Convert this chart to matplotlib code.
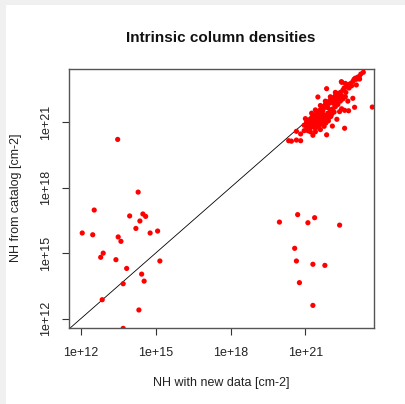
import numpy as np
import matplotlib.pyplot as plt
from matplotlib.patches import Rectangle

plt.rcParams['font.family'] = ['Liberation Sans', 'DejaVu Sans']

# log10 of NH [cm-2]: new data (x) vs catalog (y)
# sources with low catalog values
low_new = [13.48, 14.30, 12.54, 13.96, 14.49, 14.60, 14.37, 14.21, 14.78, 15.08,
           12.06, 12.48, 13.50, 13.61, 12.90, 12.80, 13.41, 15.17, 13.84, 14.44,
           14.54, 13.70, 12.86, 14.33, 13.70]
low_cat = [20.20, 17.79, 16.97, 16.70, 16.79, 16.68, 16.47, 16.13, 15.92, 16.01,
           15.92, 15.84, 15.74, 15.54, 15.00, 14.81, 14.70, 14.64, 14.30, 14.04,
           13.72, 13.60, 12.87, 12.40, 11.56]

# high new value, low catalog value
mid_new = [19.96, 20.69, 21.10, 21.37, 22.37, 20.57, 20.64, 21.30, 21.78, 20.76, 21.30]
mid_cat = [16.42, 16.76, 16.39, 16.62, 16.28, 15.22, 14.64, 14.49, 14.44, 13.65, 12.61]

# main group near the one-to-one line
high_new = [23.22, 23.04, 23.04, 22.46, 22.60, 21.85, 21.50, 23.68, 22.97, 22.57,
            22.73, 22.37, 22.26, 22.08, 22.57, 21.85, 21.30, 20.81, 20.64, 20.81,
            20.44, 20.33, 20.64, 23.16, 23.32,
            20.95, 21.05, 21.10, 21.15, 21.20, 21.25, 21.30, 21.35, 21.40, 21.45,
            21.50, 21.55, 21.60, 21.65, 21.70, 21.75, 21.80, 21.85, 21.90, 21.95,
            22.00, 22.05, 22.10, 22.15, 22.20, 22.25, 22.30, 22.35, 22.40, 22.50,
            22.55, 22.65, 22.70, 22.80, 22.90, 22.95, 23.00, 23.10, 21.60, 21.80,
            22.00, 21.40, 22.20, 21.25, 21.00,
            21.05, 21.15, 21.20, 21.30, 21.35, 21.40, 21.45, 21.50, 21.55, 21.60,
            21.65, 21.70, 21.75, 21.80, 21.25, 21.35, 21.45, 21.55, 21.65, 21.10,
            21.60, 21.90, 22.00, 22.10, 22.20, 22.30, 22.40, 22.50, 22.60, 21.95,
            22.05, 21.20, 21.40, 20.95, 21.75,
            21.05, 21.12, 21.18, 21.22, 21.28, 21.32, 21.38, 21.42, 21.48, 21.52,
            21.58, 21.62, 21.68, 21.72, 21.78, 21.82, 21.88, 21.92, 21.98, 22.02,
            21.10, 21.30, 21.50, 21.70, 21.90, 22.12, 22.25, 22.35, 22.45, 22.62,
            22.75, 22.85, 22.70, 22.90, 22.44, 23.17, 21.84, 22.15, 22.45]
high_cat = [23.19, 22.95, 22.69, 22.81, 22.76, 22.52, 22.14, 21.68, 21.67, 21.53,
            21.51, 21.47, 21.12, 20.81, 20.71, 20.41, 20.39, 20.45, 20.17, 20.14,
            20.12, 20.14, 20.57, 23.07, 23.27,
            20.85, 21.00, 20.95, 21.10, 21.05, 21.20, 21.15, 21.30, 21.25, 21.40,
            21.45, 21.50, 21.55, 21.60, 21.70, 21.65, 21.80, 21.75, 21.90, 21.85,
            22.00, 21.95, 22.10, 22.05, 22.20, 22.15, 22.30, 22.25, 22.35, 22.45,
            22.55, 22.60, 22.70, 22.75, 22.85, 22.95, 23.00, 23.05, 21.75, 21.95,
            22.15, 21.55, 22.35, 21.40, 21.15,
            20.75, 20.70, 20.85, 20.80, 20.95, 20.70, 20.90, 21.05, 20.85, 21.10,
            20.95, 21.20, 21.00, 21.30, 21.00, 21.10, 21.15, 21.25, 21.35, 20.60,
            20.65, 21.40, 21.55, 21.60, 21.70, 21.80, 21.95, 22.05, 22.15, 21.20,
            21.35, 20.55, 20.55, 20.60, 20.80,
            20.90, 20.80, 20.95, 20.75, 20.90, 21.05, 20.85, 21.00, 20.80, 20.95,
            21.15, 20.90, 21.05, 21.30, 21.10, 20.95, 21.25, 21.05, 21.40, 21.25,
            21.05, 21.25, 21.35, 21.50, 21.65, 21.85, 21.95, 22.10, 22.20, 22.35,
            22.55, 22.65, 21.95, 22.08, 22.84, 22.96, 21.92, 21.45, 21.60]

nh_new = 10.0 ** np.array(low_new + mid_new + high_new)
nh_cat = 10.0 ** np.array(low_cat + mid_cat + high_cat)

tick_vals = [1e12, 1e15, 1e18, 1e21]
tick_labels = ['1e+12', '1e+15', '1e+18', '1e+21']

W, H = 405, 404
fig = plt.figure(figsize=(W / 100, H / 100), dpi=100)
fig.patch.set_facecolor('#f0f0f0')
fig.patches.append(Rectangle((6 / W, 0), 1, 1 - 5 / H, transform=fig.transFigure,
                             facecolor='white', edgecolor='none', zorder=-1))

ax = fig.add_axes([69 / W, 1 - 327.7 / H, (374.3 - 69) / W, (327.7 - 69) / H])
ax.set_xscale('log')
ax.set_yscale('log')
ax.set_xlim(10 ** 11.53, 10 ** 23.76)
ax.set_ylim(10 ** 11.59, 10 ** 23.42)

ax.scatter(nh_new, nh_cat, s=14, color='red', edgecolors='none', zorder=3)
ax.axline((1e12, 1e12), (1e22, 1e22), color='black', lw=0.6, zorder=2)

ax.set_xticks(tick_vals)
ax.set_xticklabels(tick_labels)
ax.set_yticks(tick_vals)
ax.set_yticklabels(tick_labels, rotation=90, va='center')
ax.minorticks_off()
ax.tick_params(axis='both', length=5, width=0.8, color='#333333',
               labelsize=9, labelcolor='#222222')
ax.tick_params(axis='x', pad=9)
ax.tick_params(axis='y', pad=7)
for s in ax.spines.values():
    s.set_color('#555555')
    s.set_linewidth(1.0)

fig.text(221 / W, 1 - 38 / H, 'Intrinsic column densities', ha='center', va='center',
         fontsize=11, fontweight='bold', color='#111111')
fig.text(221 / W, 1 - 383 / H, 'NH with new data [cm-2]', ha='center', va='center',
         fontsize=9, color='#222222')
fig.text(16 / W, 1 - 198 / H, 'NH from catalog [cm-2]', ha='center', va='center',
         rotation=90, fontsize=9, color='#222222')

fig.savefig('out.png', dpi=100)
